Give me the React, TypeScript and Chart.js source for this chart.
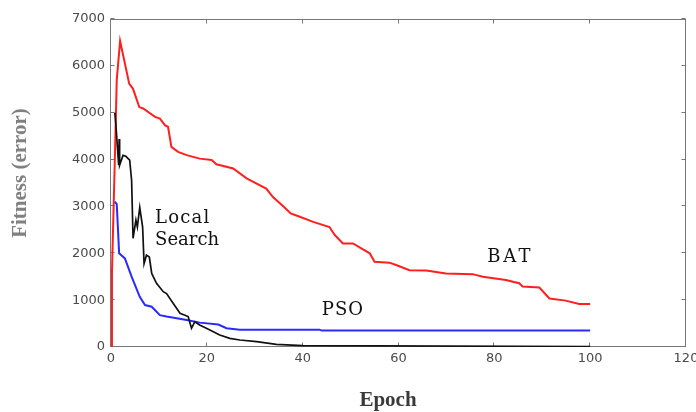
import React, { useEffect, useRef } from "react";
import { Chart, registerables } from "chart.js";

Chart.register(...registerables);

// ---- data ----
const batEpoch = [0, 0.2, 0.8, 1.2, 1.9, 3.8, 4.6, 5.9, 6.7, 9.2, 10.2, 11.3, 11.9, 12.6, 14, 15.8, 18.5, 21, 22, 25.5, 28.3, 32.4, 33.8, 36, 37.5, 39.4, 42.2, 45.6, 46.7, 48.4, 50.5, 54, 55, 58.1, 59.5, 62.3, 65.8, 69.9, 75.5, 77.6, 82.4, 85.2, 85.9, 89.4, 91.5, 94.9, 97.7, 100];
const batFitness = [0, 1600, 4000, 5700, 6530, 5620, 5510, 5120, 5090, 4910, 4875, 4730, 4700, 4270, 4165, 4095, 4020, 3990, 3900, 3810, 3600, 3380, 3200, 3000, 2850, 2780, 2670, 2560, 2390, 2210, 2210, 2000, 1820, 1800, 1750, 1640, 1630, 1570, 1555, 1500, 1430, 1360, 1290, 1270, 1035, 990, 920, 920];

const psoEpoch = [0.8, 1.2, 1.7, 2.9, 4.3, 6.0, 7.1, 8.5, 10.2, 11.6, 15.8, 18.5, 22.4, 24.1, 26.9, 43.5, 44, 100];
const psoFitness = [3100, 3050, 2000, 1890, 1500, 1070, 895, 860, 680, 650, 575, 520, 480, 400, 370, 370, 350, 350];

const lsEpoch = [0.8, 1.0, 1.6, 1.7, 1.8, 2.5, 3.1, 3.9, 4.3, 4.6, 5.2, 5.5, 6.0, 6.6, 6.9, 7.4, 8.0, 8.5, 9.5, 10.9, 11.6, 13, 14.4, 16.1, 16.8, 17.5, 18.5, 19.9, 22.7, 24.8, 26.9, 30.4, 34.5, 40, 100];
const lsFitness = [5000, 4770, 3880, 4440, 3880, 4090, 4070, 3990, 3560, 2320, 2710, 2560, 2980, 2560, 1780, 1960, 1920, 1570, 1360, 1180, 1140, 930, 720, 650, 400, 540, 470, 400, 255, 185, 150, 115, 55, 30, 10];

const seriesNames = ["BAT", "PSO", "Local Search"];
const xTitle = "Epoch";
const yTitle = "Fitness (error)";
const xMin = 0, xMax = 120, xStep = 20;
const yMin = 0, yMax = 7000, yStep = 1000;

const toPoints = (xs: number[], ys: number[]) => xs.map((x, i) => ({ x, y: ys[i] }));

// in-plot labels: text, anchor in data coordinates
const annotations = [
  { text: "Local", x: 9.2, y: 2646, spacing: 1.2 },
  { text: "Search", x: 9.2, y: 2177, spacing: 0 },
  { text: "BAT", x: 78.5, y: 1814, spacing: 3 },
  { text: "PSO", x: 44, y: 683, spacing: 1 },
];

const framePlugin = {
  id: "frame",
  beforeDatasetsDraw(chart: any) {
    const { ctx, chartArea: a, scales } = chart;
    const xs = scales.x, ys = scales.y;
    ctx.save();
    ctx.strokeStyle = "#777";
    ctx.lineWidth = 1;
    const L = Math.round(a.left) - 0.5, R = Math.round(a.right) - 0.5;
    const T = Math.round(a.top) + 0.5, B = Math.round(a.bottom) - 0.5;
    ctx.strokeRect(L, T, R - L, B - T);
    ctx.beginPath();
    const tl = 4;
    xs.ticks.forEach((t: any) => {
      const px = Math.round(xs.getPixelForValue(t.value)) - 0.5;
      ctx.moveTo(px, B); ctx.lineTo(px, B - tl);
      ctx.moveTo(px, T); ctx.lineTo(px, T + tl);
    });
    ys.ticks.forEach((t: any) => {
      const py = Math.round(ys.getPixelForValue(t.value)) - 0.5;
      ctx.moveTo(L, py); ctx.lineTo(L + tl, py);
      ctx.moveTo(R, py); ctx.lineTo(R - tl, py);
    });
    ctx.stroke();
    ctx.restore();
  },
  afterDatasetsDraw(chart: any) {
    const { ctx, scales } = chart;
    ctx.save();
    ctx.fillStyle = "#111";
    ctx.font = "18px 'DejaVu Serif'";
    ctx.textBaseline = "alphabetic";
    ctx.textAlign = "left";
    annotations.forEach((an) => {
      (ctx as any).letterSpacing = an.spacing + "px";
      ctx.fillText(an.text, scales.x.getPixelForValue(an.x), scales.y.getPixelForValue(an.y));
    });
    (ctx as any).letterSpacing = "0px";
    // axis titles
    ctx.font = "bold 21px 'Liberation Serif'";
    ctx.fillStyle = "#3a3a3a";
    ctx.textAlign = "center";
    ctx.fillText(xTitle, 388, 406);
    ctx.translate(21, 173);
    ctx.rotate(-Math.PI / 2);
    ctx.fillStyle = "#808080";
    ctx.textBaseline = "middle";
    ctx.fillText(yTitle, 0, 0);
    ctx.restore();
  },
};

export default function App() {
  const ref = useRef<HTMLCanvasElement | null>(null);
  useEffect(() => {
    if (!ref.current) return;
    const chart = new Chart(ref.current, {
      type: "scatter",
      data: {
        datasets: [
          { label: seriesNames[0], data: toPoints(batEpoch, batFitness), showLine: true, borderColor: "#ff1f1f", borderWidth: 2, pointRadius: 0, tension: 0, order: 3 },
          { label: seriesNames[1], data: toPoints(psoEpoch, psoFitness), showLine: true, borderColor: "#2a2aff", borderWidth: 2, pointRadius: 0, tension: 0, order: 2 },
          { label: seriesNames[2], data: toPoints(lsEpoch, lsFitness), showLine: true, borderColor: "#111111", borderWidth: 1.7, pointRadius: 0, tension: 0, order: 1 },
        ],
      },
      options: {
        responsive: false,
        animation: false,
        layout: { padding: { left: 0, top: 19, right: 10, bottom: 0 } },
        plugins: { legend: { display: false }, tooltip: { enabled: false } },
        scales: {
          x: {
            type: "linear",
            min: xMin, max: xMax,
            grid: { display: false, drawTicks: false },
            border: { display: false },
            ticks: { stepSize: xStep, color: "#4a4a4a", font: { family: "'DejaVu Sans'", size: 13 }, padding: 4, maxRotation: 0, callback: (v: any) => String(v) },
            afterFit: (s: any) => { s.height = 65; s.paddingLeft = 0; s.paddingRight = 0; },
          },
          y: {
            type: "linear",
            min: yMin, max: yMax,
            grid: { display: false, drawTicks: false },
            border: { display: false },
            ticks: { stepSize: yStep, color: "#4a4a4a", font: { family: "'DejaVu Sans'", size: 13 }, padding: 6, callback: (v: any) => String(v) },
            afterFit: (s: any) => { s.width = 111; s.paddingTop = 0; s.paddingBottom = 0; },
          },
        },
      },
      plugins: [framePlugin],
    });
    return () => chart.destroy();
  }, []);
  return (
    <div style={{ position: "absolute", left: 0, top: 0, width: 696, height: 412, background: "#fff" }}>
      <canvas ref={ref} width={696} height={412} style={{ width: 696, height: 412, display: "block" }} />
    </div>
  );
}
